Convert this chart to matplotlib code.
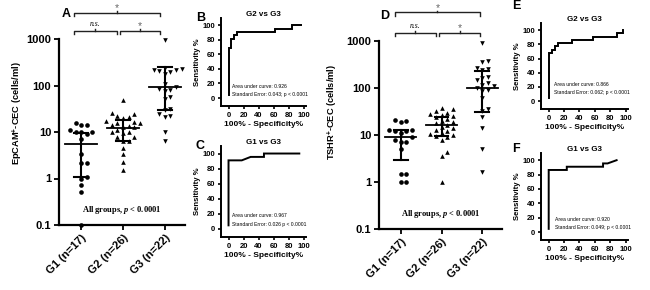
import numpy as np
import matplotlib
matplotlib.use("Agg")
import matplotlib.pyplot as plt
import matplotlib.transforms as mtransforms

plt.rcParams['font.family'] = ['Liberation Sans', 'DejaVu Sans']
plt.rcParams['font.weight'] = 'bold'
plt.rcParams['mathtext.fontset'] = 'custom'
plt.rcParams['mathtext.bf'] = 'Liberation Sans:weight=bold'
plt.rcParams['mathtext.rm'] = 'Liberation Sans:weight=bold'
plt.rcParams['mathtext.it'] = 'Liberation Serif:style=italic:weight=bold'

# ---------------- data ----------------
groups = ["G1 (n=17)", "G2 (n=26)", "G3 (n=22)"]

epcam_g1 = [16, 14, 14, 10, 10, 11, 10, 9, 7, 3.3, 2.2, 2.2, 1.1, 1.0, 0.72, 0.5, 0.1]
epcam_g2 = [48, 26, 24, 22, 21, 20, 17, 16.5, 16, 15.6, 14, 13.5, 13, 12.5, 11, 10, 10,
            9.5, 8, 7.9, 6.5, 6.3, 4.6, 3.4, 2.3, 1.5]
epcam_g3 = [950, 240, 230, 220, 215, 210, 200, 180, 110, 95, 85, 80, 78, 57, 50, 32, 30,
            24, 22, 21, 10, 6.5]
epcam_center = [5.5, 12, 92]
epcam_low = [1.1, 6.5, 30]
epcam_high = [9.5, 18, 255]

tshr_g1 = [21, 20, 19, 13, 13, 12, 12, 11, 9, 8, 7, 7, 5, 1.5, 1.5, 1.0, 1.0]
tshr_g2 = [38, 35, 33, 30, 28, 27, 25, 24, 22, 20, 19, 18, 16, 15, 14, 13, 12, 11, 10.5,
           10, 9.5, 9, 8, 4.3, 3.6, 1.0]
tshr_g3 = [900, 370, 350, 260, 250, 240, 170, 160, 150, 125, 115, 110, 100, 90, 85, 60,
           35, 33, 24, 14, 5, 1.6]
tshr_center = [9, 16, 100]
tshr_low = [3.0, 9.5, 31]
tshr_high = [13, 24, 235]

# ROC curves (100% - specificity, sensitivity)
rocB_x = [0, 0, 3.8, 3.8, 7.7, 7.7, 11.5, 11.5, 61.5, 61.5, 84.6, 84.6, 96.2]
rocB_y = [4.5, 68.2, 68.2, 81.8, 81.8, 86.4, 86.4, 90.9, 90.9, 95.5, 95.5, 100, 100]
rocC_x = [0, 0, 17.6, 29.4, 47.1, 47.1, 94.1]
rocC_y = [4.5, 90.9, 90.9, 95.5, 95.5, 100, 100]
rocE_x = [0, 0, 3.8, 3.8, 7.7, 7.7, 11.5, 11.5, 30.8, 30.8, 57.7, 57.7, 88.5, 88.5, 96.2, 96.2]
rocE_y = [4.5, 68.2, 68.2, 72.7, 72.7, 77.3, 77.3, 81.8, 81.8, 86.4, 86.4, 90.9, 90.9,
          95.5, 95.5, 100]
rocF_x = [0, 0, 23.5, 23.5, 70.6, 70.6, 76.5, 88.2]
rocF_y = [4.5, 86.4, 86.4, 90.9, 90.9, 95.5, 95.5, 100]

roc_titles = ["G2 vs G3", "G1 vs G3", "G2 vs G3", "G1 vs G3"]
roc_auc = ["0.926", "0.967", "0.866", "0.920"]
roc_se = ["0.043; p < 0.0001", "0.026 p < 0.0001", "0.062; p < 0.0001", "0.049; p < 0.0001"]

W, H = 650, 290
fig = plt.figure(figsize=(6.5, 2.9), dpi=100)


def ax_px(left, top, right, bottom):
    return fig.add_axes([left / W, 1 - bottom / H, (right - left) / W, (bottom - top) / H])


def swarm(vals, ypx_dec, xpx_unit, d=5.6):
    ylog = np.log10(np.asarray(vals, float)) * ypx_dec
    order = np.argsort(ylog)
    offs = np.zeros(len(vals))
    placed = []
    for i in order:
        for k in [0, 1, -1, 2, -2, 3, -3, 4, -4, 5, -5]:
            x = k * d
            ok = True
            for (px, py) in placed:
                if (px - x) ** 2 + (py - ylog[i]) ** 2 < d ** 2:
                    ok = False
                    break
            if ok:
                offs[i] = x
                placed.append((x, ylog[i]))
                break
    return offs / xpx_unit


def scatter_panel(ax, data, center, low, high, ylabel, ypx_dec, xpx_unit, br, lab_xy):
    markers = ['o', '^', 'v']
    for gi, vals in enumerate(data):
        off = swarm(vals, ypx_dec, xpx_unit)
        ax.scatter(gi + 1 + off, vals, s=11, marker=markers[gi], color='black',
                   linewidths=0, clip_on=False, zorder=3)
        ax.plot([gi + 1 - 0.38, gi + 1 + 0.38], [center[gi]] * 2, color='black', lw=1.3, zorder=4)
        ax.plot([gi + 1, gi + 1], [low[gi], high[gi]], color='black', lw=1.5, zorder=4)
        for v in (low[gi], high[gi]):
            ax.plot([gi + 1 - 0.17, gi + 1 + 0.17], [v, v], color='black', lw=1.5, zorder=4)
    ax.set_yscale('log')
    ax.set_ylim(0.1, 1000)
    ax.set_xlim(0.47, 3.48)
    ax.set_yticks([0.1, 1, 10, 100, 1000])
    ax.set_yticklabels(['0.1', '1', '10', '100', '1000'])
    ax.yaxis.set_minor_locator(matplotlib.ticker.NullLocator())
    ax.set_xticks([1, 2, 3])
    ax.set_xticklabels(groups, rotation=45, ha='right', rotation_mode='anchor')
    ax.tick_params(axis='both', labelsize=8, width=1.3, length=3.5, pad=2)
    for lab in ax.get_yticklabels() + ax.get_xticklabels():
        lab.set_fontweight('bold')
    ax.spines['top'].set_visible(False)
    ax.spines['right'].set_visible(False)
    ax.spines['left'].set_linewidth(1.6)
    ax.spines['bottom'].set_linewidth(1.6)
    ax.set_ylabel(ylabel, fontsize=6.7, fontweight='bold')
    ax.yaxis.set_label_coords(*lab_xy)
    ax.text(0.5, 0.08, r'All groups, $p$ < 0.0001', transform=ax.transAxes, ha='center',
            va='center', fontsize=6, family='Liberation Serif', fontweight='bold')
    # brackets
    tr = mtransforms.blended_transform_factory(ax.transData, ax.transAxes)
    (x1, x2, y_top), (l1, l2, r1, r2, y_low) = br
    def bracket(a, b, y, label, italic):
        dy = 0.018
        ax.plot([a, a, b, b], [y - dy, y, y, y - dy], transform=tr, color='#222222',
                lw=1.0, clip_on=False)
        m = (a + b) / 2
        ax.plot([m, m], [y, y + 0.008], transform=tr, color='#222222', lw=1.0, clip_on=False)
        if italic:
            ax.text(m, y + 0.012, label, transform=tr, ha='center', va='bottom', fontsize=5.5,
                    family='Liberation Serif', style='italic', fontweight='normal')
        else:
            ax.text(m, y - 0.004, label, transform=tr, ha='center', va='bottom', fontsize=7.5,
                    color='#666666', fontweight='normal')
    bracket(x1, x2, y_top, '*', False)
    bracket(l1, l2, y_low, 'n.s.', True)
    bracket(r1, r2, y_low, '*', False)


axA = ax_px(59, 39, 185, 225)
scatter_panel(axA, [epcam_g1, epcam_g2, epcam_g3], epcam_center, epcam_low, epcam_high,
              r'EpCAM$^{\mathbf{+}}$-CEC (cells/ml)', 46.5, 42,
              ((0.82, 2.88, 1.141), (0.82, 1.86, 1.93, 2.88, 1.045)), (-0.27, 0.6))
axD = ax_px(379, 41, 502, 229)
scatter_panel(axD, [tshr_g1, tshr_g2, tshr_g3], tshr_center, tshr_low, tshr_high,
              r'TSHR$^{\mathbf{+}}$-CEC (cells/ml)', 47, 41,
              ((0.85, 2.95, 1.153), (0.85, 1.87, 1.93, 2.95, 1.045)), (-0.315, 0.625))


def roc_panel(ax, xs, ys, title, auc, se, txt_y):
    ax.plot(xs, ys, color='black', lw=1.4, solid_joinstyle='miter')
    ax.set_xlim(-10, 103)
    ax.set_ylim(-11, 110)
    ax.set_xticks([0, 20, 40, 60, 80, 100])
    ax.set_yticks([0, 20, 40, 60, 80, 100])
    ax.tick_params(axis='both', labelsize=5.5, width=1.2, length=2.5, pad=1.5)
    for lab in ax.get_yticklabels() + ax.get_xticklabels():
        lab.set_fontweight('bold')
    ax.spines['top'].set_visible(False)
    ax.spines['right'].set_visible(False)
    ax.spines['left'].set_linewidth(1.4)
    ax.spines['bottom'].set_linewidth(1.4)
    ax.set_title(title, fontsize=5.8, fontweight='bold', pad=1)
    ax.set_xlabel('100% - Specificity%', fontsize=6, fontweight='bold', labelpad=1.5)
    ax.set_ylabel('Sensitivity %', fontsize=5.6, fontweight='bold', labelpad=1.5)
    ax.text(txt_y[0], txt_y[1], 'Area under curve: ' + auc, fontsize=3.6, fontweight='normal')
    ax.text(txt_y[0], txt_y[2], 'Standard Error: ' + se, fontsize=3.6, fontweight='normal')


axB = ax_px(221, 18, 306, 106)
roc_panel(axB, rocB_x, rocB_y, roc_titles[0], roc_auc[0], roc_se[0], (5, 14, 3))
axC = ax_px(221, 146, 306, 237)
roc_panel(axC, rocC_x, rocC_y, roc_titles[1], roc_auc[1], roc_se[1], (5, 15, 4))
axE = ax_px(541, 23, 628, 109)
roc_panel(axE, rocE_x, rocE_y, roc_titles[2], roc_auc[2], roc_se[2], (7, 21, 10))
axF = ax_px(541, 153, 628, 240)
roc_panel(axF, rocF_x, rocF_y, roc_titles[3], roc_auc[3], roc_se[3], (8, 15, 4))

for lab, (x, y) in zip("ABCDEF", [(62, 14), (196, 18), (196, 146), (380, 16), (512, 6), (512, 149)]):
    fig.text(x / W, 1 - y / H, lab, fontsize=9, fontweight='bold', ha='left', va='center')

fig.savefig('out.png', dpi=100)
